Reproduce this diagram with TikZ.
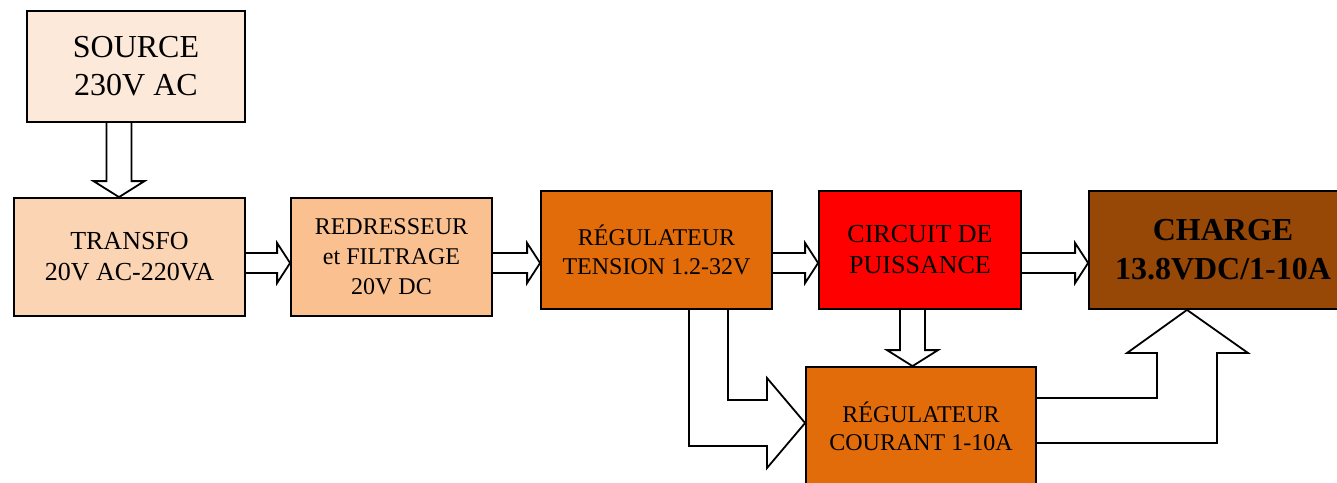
\documentclass[tikz,border=0pt]{standalone}
\usepackage{fontspec}
\setmainfont{Liberation Serif}
\usetikzlibrary{calc}
\definecolor{srcfill}{HTML}{FDE9D9}
\definecolor{trafofill}{HTML}{FBD4B4}
\definecolor{redrfill}{HTML}{FAC090}
\definecolor{regfill}{HTML}{E36C0A}
\definecolor{loadfill}{HTML}{984806}
\definecolor{powfill}{HTML}{FF0000}

\begin{document}
\begin{tikzpicture}[x=1pt, y=-1pt,
            % Block and connector styles
            box/.style={draw=black, line width=1.8pt, align=center, inner sep=0pt,
                        minimum height=118pt, text=black},
            flow/.style={draw=black, line width=1.8pt, line join=miter}
        ]

        \useasboundingbox (0,0) rectangle (1337,482);
        \clip (0,0) rectangle (1337,482);

        \node[box, fill=srcfill, minimum width=218pt, minimum height=111pt,
              font=\fontsize{32}{38}\selectfont] (source) at (136,66.5) {SOURCE\\230V AC};
        \node[box, fill=trafofill, minimum width=231pt,
              font=\fontsize{26}{31}\selectfont] (trans) at (129.5,257) {TRANSFO\\20V AC-220VA};
        \node[box, fill=redrfill, minimum width=201pt,
              font=\fontsize{24}{30}\selectfont] (redr) at (391.5,257) {REDRESSEUR\\et FILTRAGE\\20V DC};
        \node[box, fill=regfill, minimum width=231pt,
              font=\fontsize{24}{29}\selectfont] (regt) at (656.5,250) {RÉGULATEUR\\TENSION 1.2-32V};
        \node[box, fill=powfill, minimum width=202pt,
              font=\fontsize{26}{31}\selectfont] (circ) at (920,250) {CIRCUIT DE\\PUISSANCE};
        \node[box, fill=loadfill, minimum width=268pt,
              font=\fontsize{32}{39}\selectfont\bfseries] (charge) at (1223,250) {CHARGE\\13.8VDC/1-10A};
        \node[box, fill=regfill, minimum width=230pt,
              font=\fontsize{24}{28}\selectfont] (regc) at (921,426) {RÉGULATEUR\\COURANT 1-10A};

        \coordinate (row) at (0,263);

        % Horizontal block arrows along the main chain
        \foreach \a/\b in {trans/redr, redr/regt, regt/circ, circ/charge} {
            \draw[flow] let \p1=(\a.east |- row), \p2=(\b.west |- row) in
                (\x1,\y1+10pt) -- (\x2-13pt,\y1+10pt) -- (\x2-13pt,\y1+20pt) -- (\p2)
                -- (\x2-13pt,\y1-20pt) -- (\x2-13pt,\y1-10pt) -- (\x1,\y1-10pt);
        }
        % Vertical block arrows
        \foreach \a/\b/\xc in {source/trans/119, circ/regc/912.5} {
            \draw[flow] let \p1=(\xc,0 |- \a.south), \p2=(\xc,0 |- \b.north) in
                (\x1-12.5pt,\y1) -- (\x1-12.5pt,\y2+16pt) -- (\x1-25.5pt,\y2+16pt) -- (\p2)
                -- (\x1+25.5pt,\y2+16pt) -- (\x1+12.5pt,\y2+16pt) -- (\x1+12.5pt,\y1);
        }

        % Bent arrows
        \draw[flow] (689,0 |- regt.south) |- (767,446) -- (767,468) -- (regc.west |- 0,423)
            -- (767,378) -- (767,400) -| (728,0 |- regt.south);
        \draw[flow] (regc.east |- 0,398) -| (1157,353) -- (1127,353) -- (1187,0 |- charge.south)
            -- (1248,353) -- (1217,353) |- (regc.east |- 0,443);

\end{tikzpicture}
\end{document}
